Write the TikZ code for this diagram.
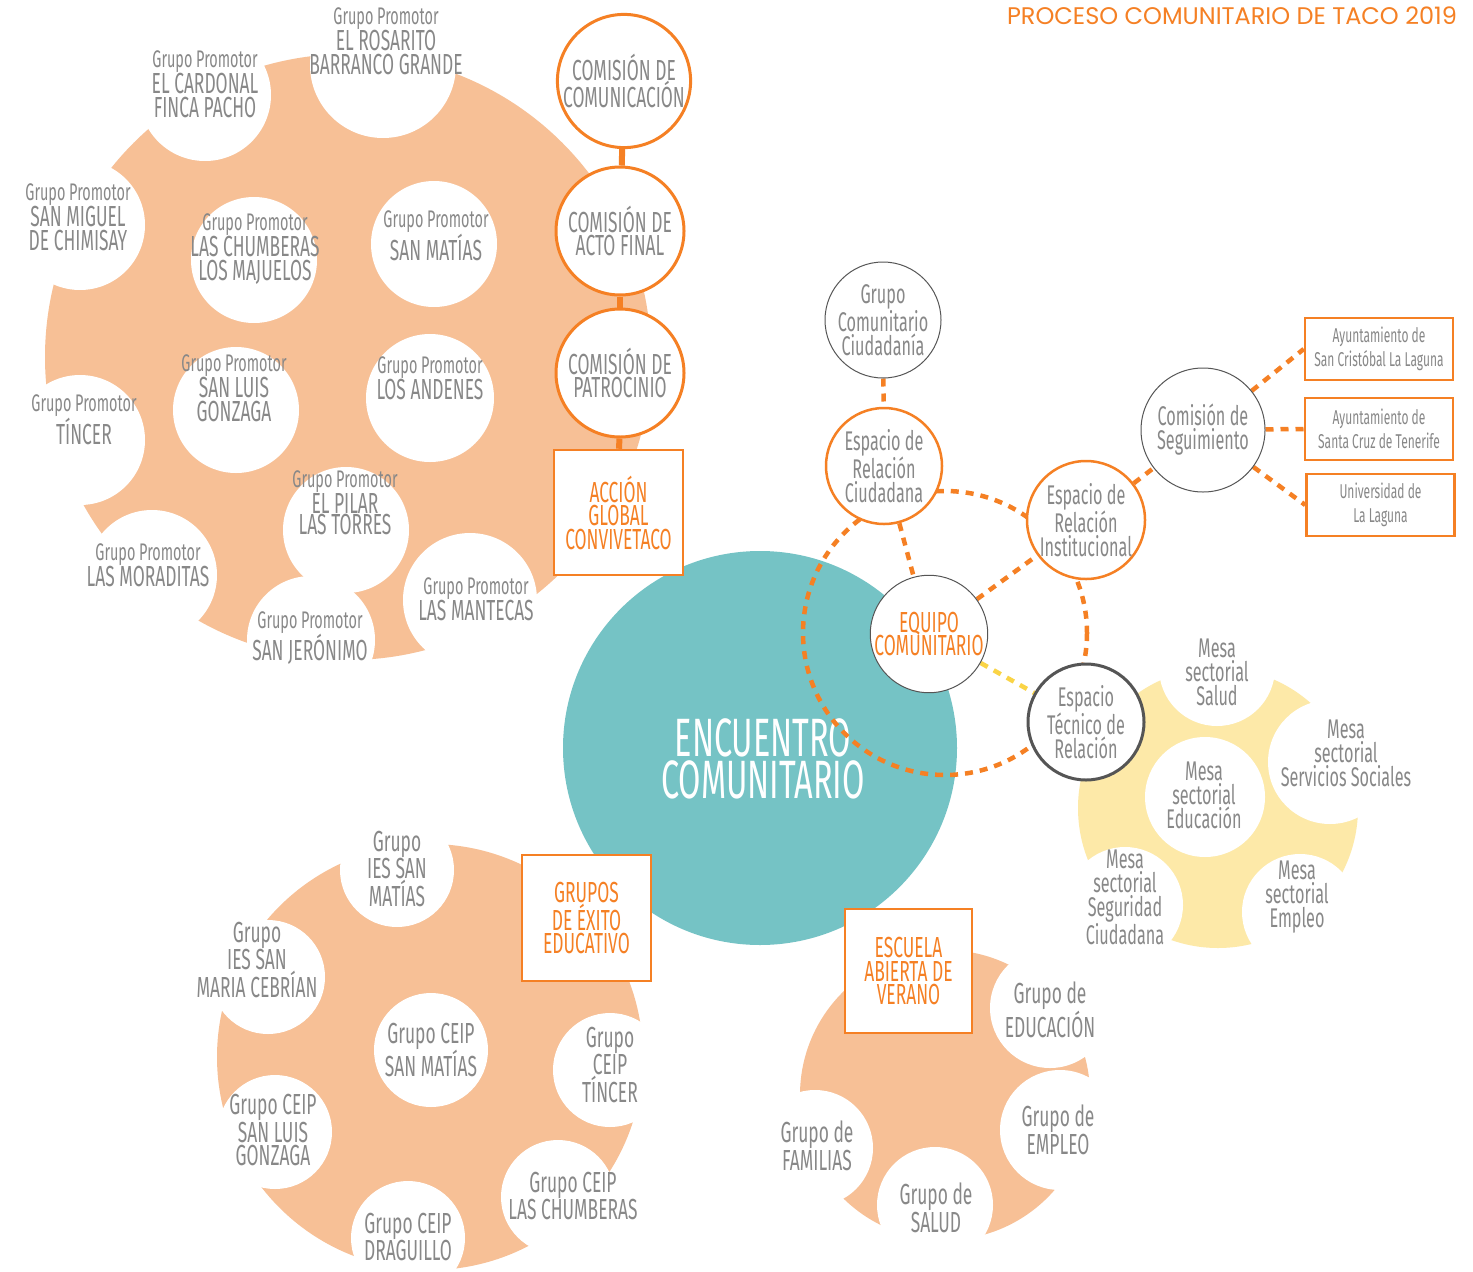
\documentclass[tikz,border=0pt]{standalone}
\usepackage{fontspec}
\setmainfont{Fira Sans}[FakeStretch=0.6]
\newfontfamily\titlefont{Poppins}
\usetikzlibrary{positioning}

\definecolor{melocoton}{RGB}{247,192,150}
\definecolor{naranja}{RGB}{245,128,36}
\definecolor{turquesa}{RGB}{117,195,197}
\definecolor{crema}{RGB}{253,233,168}
\definecolor{oro}{RGB}{250,212,70}
\definecolor{gristxt}{RGB}{136,136,136}
\definecolor{grislinea}{RGB}{85,85,85}

\newcommand{\chico}{\fontsize{24}{23.5}\selectfont}
\newcommand{\grande}{\fontsize{29}{23.5}\selectfont}
\newcommand{\red}{\fontsize{27}{24}\selectfont}
\newcommand{\caja}{\fontsize{20}{24}\selectfont}

\pgfdeclarelayer{fondo}
\pgfdeclarelayer{lineas}
\pgfsetlayers{fondo,lineas,main}

\tikzset{
  gtxt/.style={text=gristxt, align=center, font=\grande, inner sep=0pt},
  ntxt/.style={text=gristxt, align=center, font=\red, inner sep=0pt},
  comision/.style={circle, draw=naranja, line width=3pt, fill=white, minimum size=128pt,
    inner sep=0pt, align=center, text=gristxt, font=\grande},
  espacio/.style={circle, draw=naranja, line width=2.5pt, fill=white, minimum size=116pt,
    inner sep=0pt, align=center, text=gristxt, font=\red},
  grupo/.style={circle, draw=grislinea, line width=1pt, fill=white, minimum size=116pt,
    inner sep=0pt, align=center, text=gristxt, font=\red},
  accion/.style={draw=naranja, line width=2.5pt, fill=white, align=center, text=naranja,
    font=\grande, inner sep=0pt},
  entidad/.style={draw=naranja, line width=2.5pt, fill=white, align=center, text=gristxt,
    font=\caja, minimum width=148pt, minimum height=62pt, inner sep=0pt},
  punteada/.style={naranja, line width=4.5pt, dash pattern=on 8pt off 7pt},
  enlace/.style={naranja, line width=6pt},
}

\begin{document}
\begin{tikzpicture}[x=1pt, y=-1pt]
    \useasboundingbox (0,0) rectangle (1473,1272);

\begin{pgfonlayer}{fondo}
    \fill[white] (0,0) rectangle (1473,1272);

% grupos promotores
    \fill[melocoton] (348,357) circle[radius=303];
    \fill[white] (383,65) circle[radius=73];
    \fill[white] (205,95) circle[radius=66];
    \fill[white] (80,225) circle[radius=65];
    \fill[white] (80,440) circle[radius=65];
    \fill[white] (152,575) circle[radius=65];
    \fill[white] (311,640) circle[radius=64];
    \fill[white] (470,600) circle[radius=67];
    \fill[white] (254,260) circle[radius=63];
    \fill[white] (434,244) circle[radius=63];
    \fill[white] (236,410) circle[radius=63];
    \fill[white] (430,398) circle[radius=64];
    \fill[white] (346,530) circle[radius=63];

% grupos de exito educativo
    \fill[melocoton] (430,1057) circle[radius=213];
    \fill[white] (397,870) circle[radius=57];
    \fill[white] (268,977) circle[radius=57];
    \fill[white] (275,1132) circle[radius=57];
    \fill[white] (408,1238) circle[radius=57];
    \fill[white] (558,1197) circle[radius=57];
    \fill[white] (610,1070) circle[radius=57];
    \fill[white] (431,1050) circle[radius=57];

% escuela abierta de verano
    \fill[melocoton] (945,1095) circle[radius=145];
    \fill[white] (1050,1008) circle[radius=60];
    \fill[white] (1060,1130) circle[radius=60];
    \fill[white] (815,1148) circle[radius=58];
    \fill[white] (935,1205) circle[radius=58];

% mesas sectoriales
    \fill[crema] (1218,808) circle[radius=140];
    \fill[white] (1217,668) circle[radius=58];
    \fill[white] (1330,762) circle[radius=62];
    \fill[white] (1205,797) circle[radius=60];
    \fill[white] (1125,905) circle[radius=58];
    \fill[white] (1300,912) circle[radius=58];

% encuentro
    \fill[turquesa] (760,748) circle[radius=197];
    \node[text=white, font=\fontsize{54}{42}\selectfont, align=center, inner sep=0pt]
      (encuentro) at (763,759) {ENCUENTRO\\COMUNITARIO};
\end{pgfonlayer}

    \node[text=naranja, font=\titlefont\fontsize{24}{24}\selectfont, inner sep=0pt]
      (titulo) at (1232,16) {PROCESO COMUNITARIO DE TACO 2019};

% textos grupos promotores
    \node[gtxt] (rosarito) at (386,41) {{\chico Grupo Promotor}\\EL ROSARITO\\BARRANCO GRANDE};
    \node[gtxt] (cardonal) at (205,84) {{\chico Grupo Promotor}\\EL CARDONAL\\FINCA PACHO};
    \node[gtxt] (chimisay) at (78,217) {{\chico Grupo Promotor}\\SAN MIGUEL\\DE CHIMISAY};
    \node[gtxt] (chumberas) at (255,249) {{\chico Grupo Promotor}\\LAS CHUMBERAS\\LOS MAJUELOS};
    \node[gtxt] (sanmatias) at (436,236) {{\chico Grupo Promotor}\\SAN MATÍAS};
    \node[gtxt] (sanluis) at (234,388) {{\chico Grupo Promotor}\\SAN LUIS\\GONZAGA};
    \node[gtxt] (andenes) at (430,378) {{\chico Grupo Promotor}\\LOS ANDENES};
    \node[gtxt] (tincer) at (84,420) {{\chico Grupo Promotor}\\TÍNCER};
    \node[gtxt, font=\fontsize{29}{21}\selectfont] (pilar) at (345,503)
      {{\chico Grupo Promotor}\\EL PILAR\\LAS TORRES};
    \node[gtxt] (moraditas) at (148,565) {{\chico Grupo Promotor}\\LAS MORADITAS};
    \node[gtxt] (mantecas) at (476,599) {{\chico Grupo Promotor}\\LAS MANTECAS};
    \node[gtxt] (jeronimo) at (310,638) {{\chico Grupo Promotor}\\SAN JERÓNIMO};

% comisiones
    \node[comision] (comunicacion) at (624,81) {COMISIÓN DE\\COMUNICACIÓN};
    \node[comision] (actofinal) at (620,231) {COMISIÓN DE\\ACTO FINAL};
    \node[comision] (patrocinio) at (620,373) {COMISIÓN DE\\PATROCINIO};
    \node[accion, minimum width=129pt, minimum height=125pt] (convivetaco) at (618.5,512.5)
      {ACCIÓN\\GLOBAL\\CONVIVETACO};

% textos exito educativo
    \node[accion, minimum width=129pt, minimum height=126pt] (exito) at (586.5,918)
      {GRUPOS\\DE ÉXITO\\EDUCATIVO};
    \node[gtxt] (iesmatias) at (397,869) {Grupo\\IES SAN\\MATÍAS};
    \node[gtxt] (cebrian) at (257,960) {Grupo\\IES SAN\\MARIA CEBRÍAN};
    \node[gtxt] (ceipmatias) at (431,1050) {Grupo CEIP\\SAN MATÍAS};
    \node[gtxt] (ceiptincer) at (610,1065) {Grupo\\CEIP\\TÍNCER};
    \node[gtxt] (ceipsanluis) at (273,1130) {Grupo CEIP\\SAN LUIS\\GONZAGA};
    \node[gtxt] (ceipchumberas) at (573,1196) {Grupo CEIP\\LAS CHUMBERAS};
    \node[gtxt] (draguillo) at (408,1237) {Grupo CEIP\\DRAGUILLO};

% textos escuela de verano
    \node[accion, minimum width=127pt, minimum height=124pt] (escuela) at (908.5,971)
      {ESCUELA\\ABIERTA DE\\VERANO};
    \node[gtxt] (geducacion) at (1050,1010) {Grupo de\\EDUCACIÓN};
    \node[gtxt] (gempleo) at (1058,1130) {Grupo de\\EMPLEO};
    \node[gtxt] (gfamilias) at (817,1146) {Grupo de\\FAMILIAS};
    \node[gtxt] (gsalud) at (936,1208) {Grupo de\\SALUD};

% textos mesas
    \node[ntxt] (msalud) at (1217,672) {Mesa\\sectorial\\Salud};
    \node[ntxt] (mservicios) at (1346,753) {Mesa\\sectorial\\Servicios Sociales};
    \node[ntxt] (meducacion) at (1204,795) {Mesa\\sectorial\\Educación};
    \node[ntxt] (mseguridad) at (1125,897) {Mesa\\sectorial\\Seguridad\\Ciudadana};
    \node[ntxt] (mempleo) at (1297,897) {Mesa\\sectorial\\Empleo};

% red de espacios
    \node[grupo] (ciudadania) at (883,320) {Grupo\\Comunitario\\Ciudadanía};
    \node[espacio] (ciudadana) at (884,466) {Espacio de\\Relación\\Ciudadana};
    \node[espacio] (institucional) at (1086,520) {Espacio de\\Relación\\Institucional};
    \node[grupo, minimum size=124pt] (seguimiento) at (1203,430) {Comisión de\\Seguimiento};
    \node[grupo, text=naranja, font=\grande] (equipo) at (929,634) {EQUIPO\\COMUNITARIO};
    \node[grupo, line width=3pt] (tecnico) at (1086,722) {Espacio\\Técnico de\\Relación};
    \node[entidad] (cristobal) at (1379,349) {Ayuntamiento de\\San Cristóbal La Laguna};
    \node[entidad] (santacruz) at (1379,429) {Ayuntamiento de\\Santa Cruz de Tenerife};
    \node[entidad] (universidad) at (1380.5,505) {Universidad de\\La Laguna};

\begin{pgfonlayer}{lineas}
    \draw[enlace] (comunicacion) -- (actofinal);
    \draw[enlace] (actofinal) -- (patrocinio);
    \draw[enlace] (patrocinio) -- (convivetaco);

    \draw[punteada] (945,633) circle[radius=142];
    \draw[punteada] (ciudadania) -- (ciudadana);
    \draw[punteada] (ciudadana) -- (equipo);
    \draw[punteada] (equipo) -- (institucional);
    \draw[punteada, oro] (equipo) -- (tecnico);
    \draw[punteada] (institucional) -- (seguimiento);
    \draw[punteada] (seguimiento) -- (cristobal.west);
    \draw[punteada] (seguimiento) -- (santacruz.west);
    \draw[punteada] (seguimiento) -- (universidad.west);
\end{pgfonlayer}

\end{tikzpicture}
\end{document}
